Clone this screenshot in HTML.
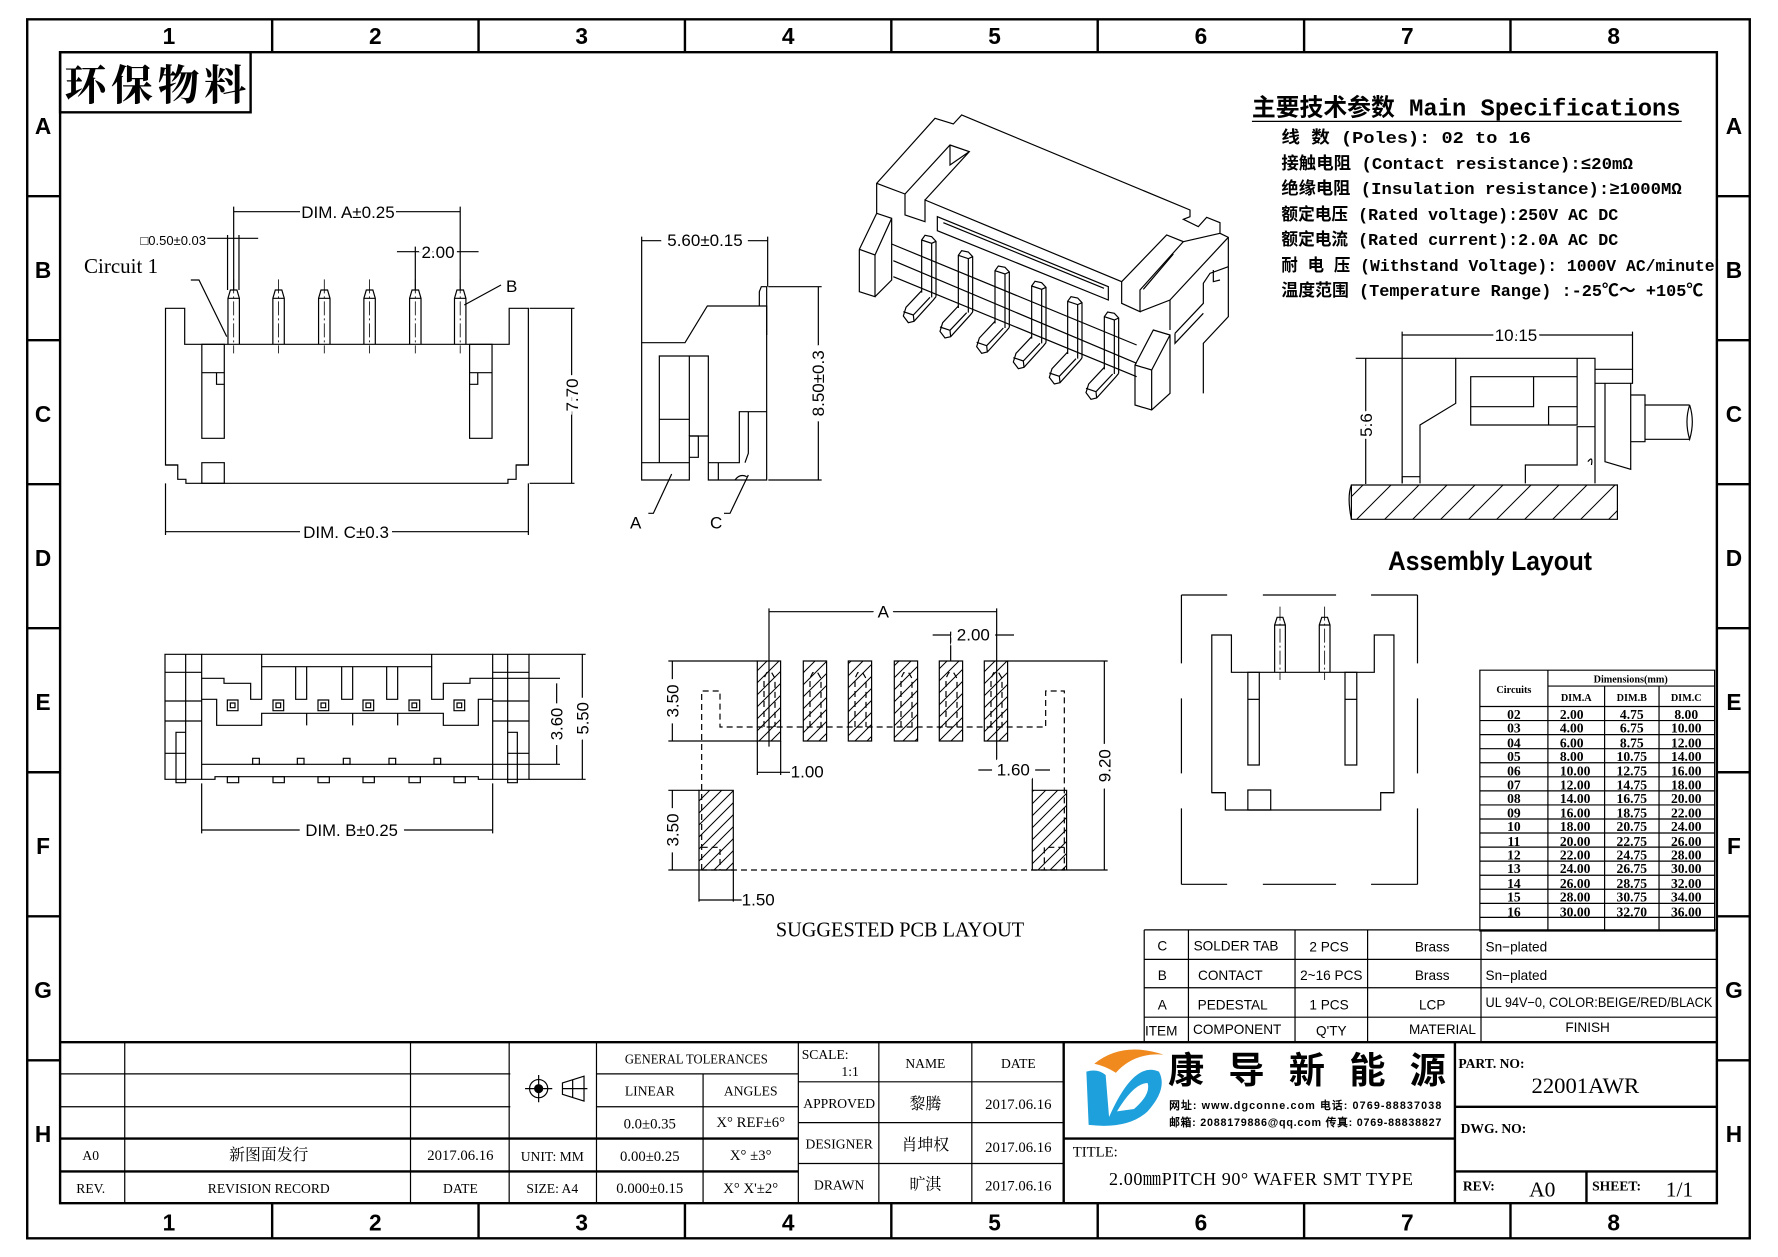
<!DOCTYPE html>
<html><head><meta charset="utf-8">
<style>
html,body{margin:0;padding:0;background:#fff;}
svg{display:block;}
svg *{vector-effect:non-scaling-stroke;}
.l{fill:none;stroke:#000;stroke-width:1.2;}
.t{stroke-width:2.4;}
.d{stroke-dasharray:6 4;}
.c{stroke-dasharray:14 3 2 3;stroke-width:0.8;}
.n{font-family:"Liberation Sans Narrow","Liberation Sans",sans-serif;}
.s{font-family:"Liberation Serif","Noto Serif CJK SC",serif;}
.m{font-family:"Liberation Mono","Noto Sans CJK SC",monospace;font-weight:bold;}
text{fill:#000;}
</style></head>
<body>
<svg width="1778" height="1257" viewBox="0 0 1778 1257" xmlns="http://www.w3.org/2000/svg">
<defs>
<pattern id="h" patternUnits="userSpaceOnUse" width="12" height="12">
<path d="M-3 15L15 -3M-3 3L3 -3M9 15L15 9" stroke="#000" stroke-width="1" fill="none" style="vector-effect:none"/></pattern>
<pattern id="h3" patternUnits="userSpaceOnUse" width="28" height="28">
<path d="M-3 31L31 -3M-3 3L3 -3M25 31L31 25" stroke="#000" stroke-width="1" fill="none" style="vector-effect:none"/></pattern>
</defs>
<rect width="1778" height="1257" fill="#fff"/>

<g transform="scale(1.134)">
<rect class="l t" x="24" y="17" width="1519" height="1075"/>
<rect class="l t" x="53" y="46" width="1461" height="1015"/>
<g class="l t">
<path d="M240 17V46M422 17V46M604 17V46M786 17V46M968 17V46M1150 17V46M1332 17V46"/>
<path d="M240 1061V1092M422 1061V1092M604 1061V1092M786 1061V1092M968 1061V1092M1150 1061V1092M1332 1061V1092"/>
<path d="M24 173H53M24 300H53M24 427H53M24 554H53M24 681H53M24 808H53M24 935H53"/>
<path d="M1514 173H1543M1514 300H1543M1514 427H1543M1514 554H1543M1514 681H1543M1514 808H1543M1514 935H1543"/>
</g>
<g class="n" font-size="20" font-weight="bold" text-anchor="middle">
<text x="149" y="39">1</text><text x="331" y="39">2</text><text x="513" y="39">3</text><text x="695" y="39">4</text><text x="877" y="39">5</text><text x="1059" y="39">6</text><text x="1241" y="39">7</text><text x="1423" y="39">8</text>
<text x="149" y="1085">1</text><text x="331" y="1085">2</text><text x="513" y="1085">3</text><text x="695" y="1085">4</text><text x="877" y="1085">5</text><text x="1059" y="1085">6</text><text x="1241" y="1085">7</text><text x="1423" y="1085">8</text>
<text x="38" y="118">A</text><text x="38" y="245">B</text><text x="38" y="372">C</text><text x="38" y="499">D</text><text x="38" y="626">E</text><text x="38" y="753">F</text><text x="38" y="880">G</text><text x="38" y="1007">H</text>
<text x="1529" y="118">A</text><text x="1529" y="245">B</text><text x="1529" y="372">C</text><text x="1529" y="499">D</text><text x="1529" y="626">E</text><text x="1529" y="753">F</text><text x="1529" y="880">G</text><text x="1529" y="1007">H</text>
</g>
<rect class="l t" x="53" y="46" width="168" height="53"/>
<text x="57" y="88" font-size="37" font-family="'Noto Serif CJK SC',serif" font-weight="bold" textLength="160">环保物料</text>

<text x="1104" y="102" font-size="21" class="m" textLength="378" lengthAdjust="spacingAndGlyphs">主要技术参数 Main Specifications</text>
<line class="l" x1="1104" y1="107" x2="1483" y2="107"/>
<g class="m" font-size="15">
<text x="1130" y="126" textLength="220" lengthAdjust="spacingAndGlyphs">线    数 (Poles): 02 to 16</text>
<text x="1130" y="149" textLength="310" lengthAdjust="spacingAndGlyphs">接触电阻 (Contact resistance):≤20mΩ</text>
<text x="1130" y="171" textLength="353" lengthAdjust="spacingAndGlyphs">绝缘电阻 (Insulation resistance):≥1000MΩ</text>
<text x="1130" y="194" textLength="297" lengthAdjust="spacingAndGlyphs">额定电压 (Rated voltage):250V AC DC</text>
<text x="1130" y="216" textLength="297" lengthAdjust="spacingAndGlyphs">额定电流 (Rated current):2.0A AC DC</text>
<text x="1130" y="239" textLength="382" lengthAdjust="spacingAndGlyphs">耐 电 压 (Withstand Voltage): 1000V AC/minute</text>
<text x="1130" y="261" textLength="372" lengthAdjust="spacingAndGlyphs">温度范围 (Temperature Range) :-25℃～ +105℃</text>
</g>

<g class="l">
<rect x="1305" y="591" width="207" height="230"/>
<path d="M1365 591V821M1415 605V821M1463 605V821M1365 605H1512M1305 623H1512"/>
<path d="M1305 635.4H1512M1305 647.8H1512M1305 660.2H1512M1305 672.6H1512M1305 685H1512M1305 697.4H1512M1305 709.8H1512M1305 722.2H1512M1305 734.6H1512M1305 747H1512M1305 759.4H1512M1305 771.8H1512M1305 784.2H1512M1305 796.6H1512M1305 809H1512"/>
</g>
<g class="s" font-weight="bold" text-anchor="middle" font-size="9">
<text x="1335" y="611">Circuits</text><text x="1438" y="602">Dimensions(mm)</text>
<text x="1390" y="618">DIM.A</text><text x="1439" y="618">DIM.B</text><text x="1487" y="618">DIM.C</text>
</g>
<g class="s" font-weight="bold" font-size="12" text-anchor="middle">
<text x="1335" y="634">02</text><text x="1386" y="634">2.00</text><text x="1439" y="634">4.75</text><text x="1487" y="634">8.00</text>
<text x="1335" y="646">03</text><text x="1386" y="646">4.00</text><text x="1439" y="646">6.75</text><text x="1487" y="646">10.00</text>
<text x="1335" y="659">04</text><text x="1386" y="659">6.00</text><text x="1439" y="659">8.75</text><text x="1487" y="659">12.00</text>
<text x="1335" y="671">05</text><text x="1386" y="671">8.00</text><text x="1439" y="671">10.75</text><text x="1487" y="671">14.00</text>
<text x="1335" y="684">06</text><text x="1389" y="684">10.00</text><text x="1439" y="684">12.75</text><text x="1487" y="684">16.00</text>
<text x="1335" y="696">07</text><text x="1389" y="696">12.00</text><text x="1439" y="696">14.75</text><text x="1487" y="696">18.00</text>
<text x="1335" y="708">08</text><text x="1389" y="708">14.00</text><text x="1439" y="708">16.75</text><text x="1487" y="708">20.00</text>
<text x="1335" y="721">09</text><text x="1389" y="721">16.00</text><text x="1439" y="721">18.75</text><text x="1487" y="721">22.00</text>
<text x="1335" y="733">10</text><text x="1389" y="733">18.00</text><text x="1439" y="733">20.75</text><text x="1487" y="733">24.00</text>
<text x="1335" y="746">11</text><text x="1389" y="746">20.00</text><text x="1439" y="746">22.75</text><text x="1487" y="746">26.00</text>
<text x="1335" y="758">12</text><text x="1389" y="758">22.00</text><text x="1439" y="758">24.75</text><text x="1487" y="758">28.00</text>
<text x="1335" y="770">13</text><text x="1389" y="770">24.00</text><text x="1439" y="770">26.75</text><text x="1487" y="770">30.00</text>
<text x="1335" y="783">14</text><text x="1389" y="783">26.00</text><text x="1439" y="783">28.75</text><text x="1487" y="783">32.00</text>
<text x="1335" y="795">15</text><text x="1389" y="795">28.00</text><text x="1439" y="795">30.75</text><text x="1487" y="795">34.00</text>
<text x="1335" y="808">16</text><text x="1389" y="808">30.00</text><text x="1439" y="808">32.70</text><text x="1487" y="808">36.00</text>
</g>

<g class="l">
<path d="M1009 820H1514M1009 846H1514M1009 871H1514M1009 897H1514"/>
<path d="M1009 820V919M1048 820V919M1142 820V919M1206 820V919M1306 820V919"/>
</g>
<g class="n" font-size="12" text-anchor="middle">
<text x="1025" y="838">C</text><text x="1090" y="838">SOLDER TAB</text><text x="1172" y="839">2 PCS</text><text x="1263" y="839">Brass</text><text x="1310" y="839" text-anchor="start">Sn−plated</text>
<text x="1025" y="864">B</text><text x="1085" y="864">CONTACT</text><text x="1174" y="864">2~16 PCS</text><text x="1263" y="864">Brass</text><text x="1310" y="864" text-anchor="start">Sn−plated</text>
<text x="1025" y="890">A</text><text x="1087" y="890">PEDESTAL</text><text x="1172" y="890">1 PCS</text><text x="1263" y="890">LCP</text><text x="1410" y="888" textLength="200" lengthAdjust="spacingAndGlyphs">UL 94V−0, COLOR:BEIGE/RED/BLACK</text>
<text x="1024" y="913">ITEM</text><text x="1091" y="912">COMPONENT</text><text x="1174" y="913">Q'TY</text><text x="1272" y="912">MATERIAL</text><text x="1400" y="910">FINISH</text>
</g>

<g class="l">
<path class="t" d="M53 919H1514"/>
<path d="M53 947H450M53 976H450M526 947H704M526 976H704M704 954H938M704 990H938M704 1026H938"/>
<path class="t" d="M53 1004H704M53 1033H704"/>
<path d="M110 919V1061M362 919V1061M449 919V1061M526 919V1061M620 947V1061M704 919V1061M775 919V1061M857 919V1061"/>
<path class="t" d="M938 919V1061M938 1004H1283M1283 919V1061M1283 976H1514M1283 1033H1514M1399 1033V1061"/>
</g>
<g class="s" font-size="12" text-anchor="middle">
<text x="614" y="938" textLength="126" lengthAdjust="spacingAndGlyphs">GENERAL TOLERANCES</text>
<text x="573" y="966">LINEAR</text><text x="662" y="966">ANGLES</text>
<text x="573" y="995" font-size="13">0.0±0.35</text><text x="662" y="994" font-size="13">X° REF±6°</text>
<text x="80" y="1023">A0</text><text x="237" y="1023" font-size="14">新图面发行</text><text x="406" y="1023" font-size="13">2017.06.16</text><text x="487" y="1024">UNIT: MM</text><text x="573" y="1024" font-size="13">0.00±0.25</text><text x="662" y="1023" font-size="13">X° ±3°</text>
<text x="80" y="1052">REV.</text><text x="237" y="1052">REVISION RECORD</text><text x="406" y="1052">DATE</text><text x="487" y="1052">SIZE: A4</text><text x="573" y="1052" font-size="13">0.000±0.15</text><text x="662" y="1052" font-size="13">X° X'±2°</text>
<text x="816" y="942">NAME</text><text x="898" y="942">DATE</text>
<text x="740" y="977">APPROVED</text><text x="816" y="978" font-size="14">黎腾</text><text x="898" y="978" font-size="13">2017.06.16</text>
<text x="740" y="1013">DESIGNER</text><text x="816" y="1014" font-size="14">肖坤权</text><text x="898" y="1016" font-size="13">2017.06.16</text>
<text x="740" y="1049">DRAWN</text><text x="816" y="1049" font-size="14">旷淇</text><text x="898" y="1050" font-size="13">2017.06.16</text>
</g>
<g class="s" font-size="12"><text x="707" y="934">SCALE:</text><text x="742" y="949">1:1</text></g>
<g class="l">
<circle cx="475" cy="960" r="8"/><circle cx="475" cy="960" r="3.5" style="fill:#000"/>
<path d="M463 960H487M475 948V972"/>
<path d="M496 955L515 949V971L496 965ZM496 960H518M505 952V968"/>
</g>
<path d="M965 938Q990 918 1026 930Q1000 928 984 946Q975 940 965 938Z" fill="#f08a1e"/>
<path d="M958 945Q968 942 975 948L978 985Q1000 935 1022 945Q1030 960 1012 980Q995 996 960 992Z" fill="#1ea0dc"/>
<path d="M985 980Q1000 955 1012 955Q1015 965 1000 978Z" fill="#fff"/>
<g font-family="'Noto Sans CJK SC',sans-serif" font-weight="bold" font-size="32">
<text x="1030" y="955" textLength="245">康导新能源</text></g>
<g font-family="'Liberation Sans',sans-serif" font-weight="bold" font-size="9.5">
<text x="1031" y="978" textLength="240">网址: www.dgconne.com   电话: 0769-88837038</text>
<text x="1031" y="993" textLength="240">邮箱: 2088179886@qq.com 传真: 0769-88838827</text>
</g>
<text x="946" y="1020" class="s" font-size="13">TITLE:</text>
<text x="1112" y="1045" class="s" font-size="16" text-anchor="middle" textLength="268">2.00㎜PITCH 90° WAFER SMT TYPE</text>
<g class="s" font-weight="bold" font-size="12">
<text x="1286" y="942">PART. NO:</text><text x="1288" y="999">DWG. NO:</text><text x="1290" y="1050">REV:</text><text x="1404" y="1050">SHEET:</text>
</g>
<g class="s" text-anchor="middle">
<text x="1398" y="964" font-size="20">22001AWR</text>
<text x="1360" y="1055" font-size="19">A0</text><text x="1481" y="1055" font-size="19">1/1</text>
</g>
</g>

<!-- FRONT VIEW -->
<g transform="translate(150,190) scale(0.40816,0.33333)">
<g class="l">
<path d="M38 355H85V463H880V355H927V825H897V868H877V880H88V868H68V825H38Z"/>
<path d="M38 825H68M897 825H927"/>
<rect x="127" y="463" width="55" height="282"/><path d="M127 548H182M163 548V583H182"/>
<rect x="783" y="463" width="55" height="282"/><path d="M783 548H838M783 583H803V548"/>
<rect x="127" y="818" width="55" height="62"/>
<path d="M205 50V300M760 50V300M190 135V300M218 135V300M650 170V300"/>
<path d="M205 65H760M140 145H265M605 185H805"/>
<path d="M930 355H1040M930 880H1040M1033 355V880"/>
<path d="M38 880V1035M927 880V1035M38 1025H927"/>
<path d="M100 270H120L188 440"/>
<path d="M860 285L770 345"/>
</g>
<g id="fp" class="l">
<path d="M191 463V325L197 300H213L219 325V463M191 325H219"/>
</g>
<use href="#fp" x="110"/><use href="#fp" x="222"/><use href="#fp" x="333"/><use href="#fp" x="445"/><use href="#fp" x="555"/>
<path class="l c" d="M205 268V490M315 268V490M427 268V490M538 268V490M650 268V490M760 268V490"/>
</g>
<rect x="300" y="204" width="96" height="18" fill="#fff"/>
<rect x="300" y="524" width="92" height="18" fill="#fff"/>
<g class="n" font-size="17">
<text x="348" y="218" text-anchor="middle">DIM. A±0.25</text>
<text x="206" y="245" text-anchor="end" font-size="13" stroke="#fff" stroke-width="4" style="paint-order:stroke">□0.50±0.03</text>
<text x="438" y="258" text-anchor="middle" stroke="#fff" stroke-width="6" style="paint-order:stroke">2.00</text>
<text x="506" y="292">B</text>
<text x="346" y="538" text-anchor="middle">DIM. C±0.3</text>
<text transform="translate(578,395) rotate(-90)" text-anchor="middle" stroke="#fff" stroke-width="8" style="paint-order:stroke">7.70</text>
</g>
<text x="84" y="273" class="s" font-size="21">Circuit 1</text>

<!-- SIDE VIEW -->
<g transform="translate(620,220) scale(0.33333)">
<g class="l">
<path d="M65 780V368H195L262 258H440V780H265V648H208V780Z"/>
<path d="M118 728V408H265V648M208 408V648M118 598H208M65 728H208M265 728H358V575H440M385 575V700L375 728M295 728V780M208 648H235V712H208"/>
<path d="M418 258V215L424 200H440V345"/>
<path d="M65 62H443M65 50V368M443 50V200"/>
<path d="M445 200H605M445 780H605M595 200V780"/>
<path d="M155 762L100 880H85M385 765L330 880H312"/>
<path d="M345 780Q360 760 380 770"/>
</g>
<g class="n" font-size="51">
<text x="255" y="78" text-anchor="middle" stroke="#fff" stroke-width="12" style="paint-order:stroke">5.60±0.15</text>
<text transform="translate(612,490) rotate(-90)" text-anchor="middle" stroke="#fff" stroke-width="12" style="paint-order:stroke">8.50±0.3</text>
<text x="30" y="925">A</text><text x="270" y="925">C</text>
</g>
</g>

<!-- 3D VIEW -->
<g transform="translate(850,100) scale(0.33333)">
<g class="l">
<path d="M80 340V250L255 55L310 72L335 45L1020 330V350L1000 358L1045 380L1070 352L1110 368V400L1135 412V650L1060 730V880"/>
<path d="M80 250L165 282V345L225 365V300L815 545V610L870 635V570L1000 425L950 405L815 545"/>
<path d="M165 282L300 135L358 155L225 300M300 135V195L358 155"/>
<path d="M870 635L960 600L1135 412M960 600V690M1000 425L1110 400M880 568L970 462"/>
<path d="M262 350V392L775 600V560L262 350ZM280 368L762 565"/>
<path d="M80 340L125 355V430M28 448L80 340M28 448L75 465L125 355M28 448V575L75 590V465M75 590L125 540V430"/>
<path d="M125 432L860 735M130 482L860 790M130 530L860 830"/>
<path d="M855 795L910 690L960 705V880L905 930L855 915ZM855 795L905 810L960 705M905 810V930"/>
<path d="M975 700L1060 610V550L1080 520L1135 500M975 700V730L1060 640M1090 510V545L1110 540"/>
</g>
<g id="pn" class="l">
<path d="M215 578V420L225 406L245 410L258 424V590M215 420L245 430L258 424M245 430V592"/>
<path d="M215 572L168 622L160 648L175 668L192 664L250 600L258 590M160 635L190 645L192 664M190 645L240 592"/>
</g>
<use href="#pn" x="110" y="46"/><use href="#pn" x="220" y="92"/><use href="#pn" x="330" y="138"/><use href="#pn" x="438" y="184"/><use href="#pn" x="548" y="230"/>
</g>

<!-- BOTTOM VIEW -->
<g transform="translate(150,620) scale(0.33333)">
<g class="l">
<rect x="45" y="103" width="110" height="375"/>
<path d="M107 103V478M45 157H155M45 243H155M45 303H155M45 400H107M78 337H107V488H78Z"/>
<rect x="1028" y="103" width="109" height="375"/>
<path d="M1073 103V478M1028 157H1137M1028 243H1137M1028 303H1137M1073 400H1137M1073 337H1102V488H1073Z"/>
<path d="M155 103H1028M335 103V140H845V103"/>
<path d="M155 175H222V190H302V238H335V140M845 140V238H880V190H960V175H1028"/>
<path d="M437 140V238H470V140M575 140V238H608V140M710 140V238H743V140"/>
<path d="M155 238H200V316H335V280H470V316H470V280H608V316H608V280H743V316H743V280H880V316H985V238H1028"/>
<path d="M155 433H1028M155 478H195V470H985V478H1028"/>
<path d="M1028 175H1230M1028 433H1230M1220 190V433M1137 103H1307M1137 478H1307M1297 103V478"/>
<path d="M155 490V640M1028 490V640M155 630H1028"/>
</g>
<g class="l">
<rect x="232" y="240" width="32" height="32"/><rect x="241" y="249" width="14" height="14"/>
<rect x="369" y="240" width="32" height="32"/><rect x="378" y="249" width="14" height="14"/>
<rect x="504" y="240" width="32" height="32"/><rect x="513" y="249" width="14" height="14"/>
<rect x="639" y="240" width="32" height="32"/><rect x="648" y="249" width="14" height="14"/>
<rect x="777" y="240" width="32" height="32"/><rect x="786" y="249" width="14" height="14"/>
<rect x="912" y="240" width="32" height="32"/><rect x="921" y="249" width="14" height="14"/>
<rect x="308" y="415" width="20" height="18"/><rect x="442" y="415" width="20" height="18"/><rect x="580" y="415" width="20" height="18"/><rect x="717" y="415" width="20" height="18"/><rect x="852" y="415" width="20" height="18"/>
<rect x="232" y="470" width="34" height="18"/><rect x="369" y="470" width="34" height="18"/><rect x="504" y="470" width="34" height="18"/><rect x="639" y="470" width="34" height="18"/><rect x="777" y="470" width="34" height="18"/><rect x="912" y="470" width="34" height="18"/>
</g>
<g class="n" font-size="50">
<text x="605" y="648" text-anchor="middle" stroke="#fff" stroke-width="14" style="paint-order:stroke">DIM. B±0.25</text>
<text transform="translate(1238,312) rotate(-90)" text-anchor="middle" stroke="#fff" stroke-width="10" style="paint-order:stroke">3.60</text>
<text transform="translate(1315,295) rotate(-90)" text-anchor="middle" stroke="#fff" stroke-width="10" style="paint-order:stroke">5.50</text>
</g>
</g>

<!-- PCB pads -->
<g class="l">
<rect x="757.3" y="661" width="23.3" height="80" style="fill:url(#h)"/>
<rect x="803.3" y="661" width="23.3" height="80" style="fill:url(#h)"/>
<rect x="848.3" y="661" width="23.3" height="80" style="fill:url(#h)"/>
<rect x="894.3" y="661" width="23.3" height="80" style="fill:url(#h)"/>
<rect x="939.3" y="661" width="23.3" height="80" style="fill:url(#h)"/>
<rect x="984.3" y="661" width="23.3" height="80" style="fill:url(#h)"/>
<rect x="699" y="790.3" width="34.3" height="79.7" style="fill:url(#h)"/>
<rect x="1032.3" y="790.3" width="34.3" height="79.7" style="fill:url(#h)"/>
</g>
<g transform="translate(640,600) scale(0.33333)">
<path class="l d" d="M185 810V273H240V381H1217V273H1273V810H185"/>
<g class="l d">
<path d="M372 381V235L380 218H395L405 235V381M510 381V235L518 218H533L543 235V381M645 381V235L653 218H668L678 235V381M783 381V235L791 218H806L816 235V381M918 381V235L926 218H941L951 235V381M1053 381V235L1061 218H1076L1086 235V381"/>
<path d="M185 742H240V810M1273 742H1213V810"/>
</g>
<g class="l">
<path d="M387 25V440M1070 25V520M387 35H1070M932 95V183M878 105H1122"/>
<path d="M85 183H352M85 423H352M97 183V423M85 571H177M85 810H177M97 571V810"/>
<path d="M1103 183H1403M1280 810H1403M1393 183V810"/>
<path d="M352 423V525M422 423V525M352 517H450M1177 520V571M1015 510H1230"/>
<path d="M177 810V905M280 810V905M177 900H305"/>
</g>
<g class="n" font-size="51">
<text x="730" y="52" text-anchor="middle" stroke="#fff" stroke-width="12" style="paint-order:stroke">A</text>
<text x="1000" y="122" text-anchor="middle" stroke="#fff" stroke-width="12" style="paint-order:stroke">2.00</text>
<text x="452" y="533">1.00</text>
<text x="1120" y="527" text-anchor="middle" stroke="#fff" stroke-width="12" style="paint-order:stroke">1.60</text>
<text x="305" y="917">1.50</text>
<text transform="translate(115,303) rotate(-90)" text-anchor="middle" stroke="#fff" stroke-width="12" style="paint-order:stroke">3.50</text>
<text transform="translate(115,690) rotate(-90)" text-anchor="middle" stroke="#fff" stroke-width="12" style="paint-order:stroke">3.50</text>
<text transform="translate(1411,497) rotate(-90)" text-anchor="middle" stroke="#fff" stroke-width="12" style="paint-order:stroke">9.20</text>
</g>
<text x="780" y="1010" class="s" font-size="62" text-anchor="middle" textLength="745" lengthAdjust="spacingAndGlyphs">SUGGESTED PCB LAYOUT</text>
</g>

<!-- ASSEMBLY -->
<rect class="l" x="1351.4" y="485" width="266" height="34.3" style="fill:url(#h3)"/>
<g transform="translate(1170,330) scale(0.35714,0.33333)">
<g class="l">
<path d="M508 465Q495 500 508 568" />
<path d="M700 460V285L800 220V85H1190V460M842 140H1140V285H842ZM842 230H1018V140M1060 285V230H1140M1140 85V140M995 460V405H1140V290H1190"/>
<path d="M1190 118H1295V160H1190M1218 160V395L1290 418V160M1290 195H1330V335H1290M1330 225H1455M1330 328H1455M1455 225Q1470 275 1455 328Q1440 275 1455 225"/>
<path d="M650 460V440H700M1170 395Q1185 375 1180 405"/>
<path d="M650 5V460M1295 5V120M650 15H1295M520 85H800M548 85V462"/>
</g>
<g class="l">
<path d="M32 795H160M260 795H465M563 795H693"/>
<path d="M32 795V1000M32 1105V1330M32 1435V1663M693 795V1000M693 1105V1330M693 1435V1663M32 1663H160M260 1663H465M563 1663H693"/>
<path d="M117 1388V915H172V1027H572V915H627V1388H590V1440H155V1388Z"/>
<path d="M117 1388H155M590 1388H627"/>
<rect x="218" y="1380" width="64" height="60"/>
<rect x="218" y="1027" width="32" height="278"/><path d="M218 1108H250"/>
<rect x="490" y="1027" width="33" height="278"/><path d="M490 1108H523"/>
<path d="M293 1027V885L300 862H316L323 885V1027M293 885H323M418 1027V885L425 862H441L448 885V1027M418 885H448"/>
</g>
<path class="l c" d="M308 830V1050M433 830V1050"/>
</g>
<g class="n" font-size="17">
<text x="1516" y="341" text-anchor="middle" stroke="#fff" stroke-width="6" style="paint-order:stroke">10.15</text>
<text transform="translate(1372,425) rotate(-90)" text-anchor="middle" stroke="#fff" stroke-width="6" style="paint-order:stroke">5.6</text>
</g>
<text x="1490" y="570" class="n" font-size="27" font-weight="bold" text-anchor="middle" textLength="204" lengthAdjust="spacingAndGlyphs">Assembly Layout</text>
</svg>
</body></html>
